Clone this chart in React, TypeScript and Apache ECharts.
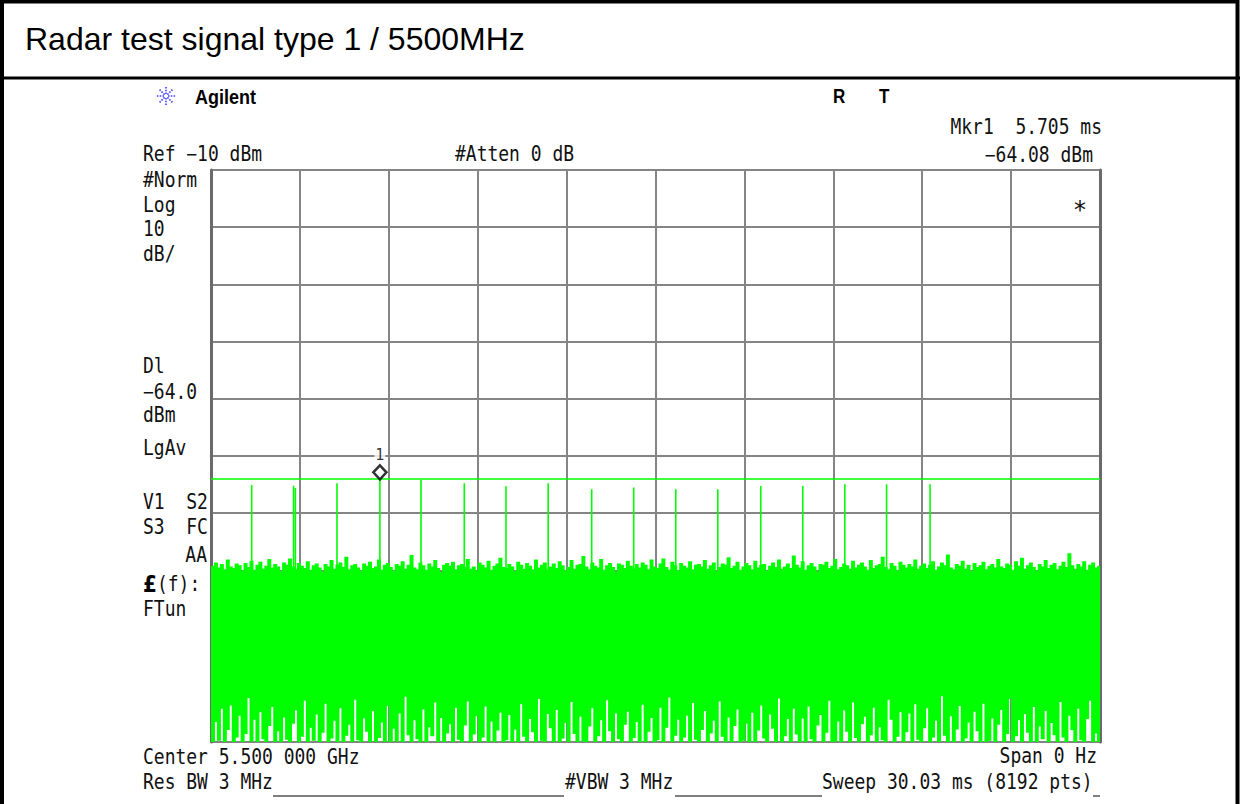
import React, { useEffect, useRef } from "react";
import * as echarts from "echarts";

// ---- Instrument settings ----
const SWEEP_MS = 30.03;
const REF_DBM = -10;
const BOTTOM_DBM = -110;
const DIV_DB = 10;
const DISPLAY_LINE_DBM = -64.0;
const MARKER_T_MS = 5.705;
const MARKER_DBM = -64.08;
const PULSE_BASE_DBM = -80;

// ---- Radar pulses: time (ms) and peak level (dBm) ----
const PULSE_TIMES = [1.375, 2.79, 2.85, 4.256, 5.705, 7.094, 8.556, 9.965, 11.39, 12.86, 14.28, 15.7, 17.12, 18.57, 19.99, 21.41, 22.82, 24.29];
const PULSE_PEAKS = [-65.07, -65.19, -65.6, -64.77, -64.08, -64.2, -64.77, -65.3, -64.77, -65.8, -65.5, -65.8, -65.8, -65.25, -65.25, -64.95, -64.95, -64.95];

// ---- Noise trace envelope: max (top) and min (bottom) per display column group, dBm ----
const NOISE_TOP = [
  -79.2,-78.6,-79.5,-78.9,-79.8,-78.1,-79.3,-79.6,-78.8,-79.1,-80.0,-78.7,-79.4,-78.3,-79.9,-79.0,-78.5,-79.7,-79.2,-78.0,
  -79.5,-78.9,-79.3,-80.1,-78.6,-79.0,-77.9,-79.4,-79.8,-78.7,-79.2,-79.6,-78.4,-79.9,-79.1,-78.8,-79.5,-80.2,-78.9,-79.3,
  -78.2,-79.7,-79.0,-78.6,-79.4,-77.6,-79.8,-79.1,-78.9,-79.5,-80.0,-78.8,-79.2,-78.5,-79.6,-79.3,-78.1,-79.9,-79.0,-78.7,
  -79.4,-80.1,-78.9,-79.2,-78.4,-79.7,-79.0,-77.3,-79.5,-79.8,-78.6,-79.1,-79.9,-78.8,-79.3,-78.2,-79.6,-80.3,-79.0,-78.7,
  -79.2,-78.5,-79.8,-79.1,-78.9,-79.4,-78.0,-79.7,-79.3,-80.0,-78.6,-79.0,-79.5,-78.3,-79.9,-79.2,-78.8,-77.8,-79.4,-79.6,
  -78.9,-79.3,-80.1,-78.5,-79.0,-79.7,-78.7,-79.2,-79.8,-78.1,-79.5,-79.0,-78.6,-79.9,-79.3,-78.8,-79.6,-78.4,-79.1,-80.0,
  -79.4,-78.2,-79.7,-79.0,-78.9,-77.5,-79.3,-79.8,-78.6,-79.2,-79.5,-78.0,-79.9,-79.1,-78.7,-79.4,-80.2,-78.8,-79.0,-79.6,
  -78.3,-79.2,-79.7,-78.9,-79.5,-78.6,-79.0,-79.8,-78.1,-79.3,-79.6,-78.8,-77.9,-79.4,-79.9,-78.5,-79.1,-80.0,-78.7,-79.2,
  -79.5,-78.4,-79.8,-79.0,-78.9,-79.3,-78.2,-79.7,-79.1,-78.6,-80.1,-79.4,-78.8,-79.0,-77.7,-79.6,-79.2,-78.5,-79.9,-79.3,
  -78.7,-79.1,-79.8,-78.3,-79.5,-79.0,-78.9,-80.0,-79.2,-78.6,-79.4,-78.1,-79.7,-79.3,-78.8,-79.6,-77.4,-79.0,-79.5,-78.4,
  -79.9,-79.1,-78.7,-79.3,-80.2,-78.9,-79.0,-78.5,-79.6,-79.2,-78.0,-79.8,-79.4,-78.8,-79.1,-79.7,-78.3,-79.5,-79.0,-78.6,
  -79.3,-79.9,-78.2,-79.6,-79.1,-78.9,-77.6,-79.4,-79.8,-78.7,-79.2,-80.0,-78.5,-79.0,-79.5,-78.9,-79.3,-78.1,-79.7,-79.2,
  -78.8,-79.6,-79.0,-78.4,-79.9,-79.3,-78.6,-79.1,-77.2,-79.5,-79.8,-78.9,-79.2,-78.3,-79.7,-79.0,-80.1,-78.7,-79.4,-79.1,
  -78.5,-79.8,-79.2,-78.9,-79.5,-78.0,-79.3,-79.6,-78.8,-79.0,-79.9,-78.4,-79.2,-77.8,-79.7,-79.1,-78.6,-79.4,-80.0,-78.9,
  -79.3,-78.2,-79.6,-79.0,-78.7,-79.8,-79.2,-78.5,-79.4,-77.0,-79.1,-79.7,-78.9,-79.3,-78.4,-79.9,-79.0,-78.6,-79.5,-79.2,
];
const NOISE_BOTTOM = [
  -110,-106.5,-109.8,-104.2,-110,-107.9,-103.6,-110,-109.2,-105.4,-110,-108.6,-102.3,-109.9,-106.1,-110,-104.8,-109.5,-110,-107.2,
  -103.9,-110,-108.1,-110,-105.7,-109.6,-110,-106.8,-104.5,-110,-109.1,-102.8,-110,-107.5,-109.8,-105.2,-110,-108.4,-103.3,-110,
  -109.4,-106.3,-110,-104.1,-110,-108.9,-107.0,-110,-102.6,-109.7,-110,-105.9,-108.2,-110,-104.6,-110,-109.3,-106.6,-110,-103.7,
  -110,-107.7,-109.9,-105.0,-110,-102.1,-108.8,-110,-106.2,-109.5,-110,-104.3,-110,-107.4,-109.0,-103.1,-110,-105.8,-110,-108.5,
  -106.9,-110,-104.0,-109.6,-110,-107.1,-102.9,-110,-108.7,-105.5,-110,-109.2,-103.8,-110,-106.4,-110,-108.0,-104.9,-110,-109.7,
  -105.3,-110,-107.8,-110,-103.4,-109.1,-110,-106.0,-108.3,-110,-102.5,-109.8,-110,-105.1,-107.6,-110,-104.4,-110,-109.4,-106.7,
  -110,-103.0,-108.6,-110,-105.6,-109.9,-110,-107.3,-104.1,-110,-109.0,-106.2,-110,-102.7,-108.1,-110,-105.0,-109.5,-110,-107.0,
  -104.7,-110,-109.3,-106.5,-110,-103.5,-110,-108.2,-105.8,-110,-109.7,-104.0,-110,-107.5,-102.2,-110,-108.9,-106.1,-110,-109.2,
  -105.4,-110,-103.2,-109.6,-110,-107.9,-104.6,-110,-108.5,-106.3,-110,-102.9,-109.1,-110,-105.7,-110,-107.2,-104.3,-110,-109.8,
  -106.8,-110,-104.9,-110,-108.0,-103.6,-109.4,-110,-105.2,-107.7,-110,-102.4,-110,-109.0,-106.0,-110,-104.2,-108.7,-110,-105.9,
  -110,-103.8,-109.5,-110,-107.1,-105.3,-110,-108.4,-102.8,-110,-109.9,-106.4,-110,-104.5,-108.2,-110,-103.1,-109.3,-110,-106.9,
  -105.6,-110,-108.8,-104.0,-110,-107.4,-109.7,-110,-102.6,-106.1,-110,-109.1,-104.8,-110,-108.3,-105.0,-110,-103.4,-109.6,-110,
  -107.6,-104.1,-110,-109.2,-106.3,-110,-102.0,-108.9,-110,-105.5,-110,-107.8,-103.7,-110,-109.4,-106.6,-110,-104.7,-108.1,-110,
  -103.3,-110,-109.8,-105.9,-110,-107.0,-104.4,-110,-108.6,-102.5,-110,-109.0,-106.2,-110,-105.1,-108.4,-110,-103.9,-110,-107.3,
  -109.5,-104.6,-110,-106.7,-108.8,-110,-103.0,-109.2,-110,-105.4,-107.9,-110,-104.2,-109.7,-110,-106.0,-102.8,-110,-108.5,-110,
];

// ---- Annotation texts ----
const TITLE = "Radar test signal type 1 / 5500MHz";
const LEFT_ANNOTATIONS = ["#Norm", "Log", "10", "dB/", "Dl", "\u221264.0", "dBm", "LgAv", "V1  S2", "S3  FC"];
const TOP_LEFT = "Ref \u221210 dBm";
const TOP_MID = "#Atten 0 dB";
const MARKER_LINE1 = "Mkr1  5.705 ms";
const MARKER_LINE2 = "\u221264.08 dBm";
const BOTTOM_LEFT = "Center 5.500 000 GHz";
const BOTTOM_RIGHT = "Span 0 Hz";
const RBW = "Res BW 3 MHz";
const VBW = "#VBW 3 MHz";
const SWEEP = "Sweep 30.03 ms (8192 pts)";

const MONO = '18px "DejaVu Sans Mono"';

function monoText(text: string, x: number, y: number, align: string = "left") {
  return {
    type: "text",
    x,
    y,
    scaleY: 1.15,
    silent: true,
    style: { text, fill: "#111", font: MONO, align, verticalAlign: "middle" },
  };
}

export default function App() {
  const ref = useRef<HTMLDivElement>(null);

  useEffect(() => {
    if (!ref.current) return;
    const chart = echarts.init(ref.current, undefined, { renderer: "svg" });
    const dt = SWEEP_MS / NOISE_TOP.length;
    const noiseData = NOISE_TOP.map((top, i) => [i * dt, NOISE_BOTTOM[i], top]);
    const pulseData = PULSE_TIMES.map((t, i) => [t, PULSE_PEAKS[i]]);

    const leftYs = [180, 205, 229, 254, 366, 392, 415.5, 448, 502.5, 527.5];
    const graphics: any[] = [
      // outer frame and title separator
      { type: "rect", shape: { x: 2, y: 1.5, width: 1235.5, height: 830 }, style: { fill: "none", stroke: "#000", lineWidth: 4 }, silent: true },
      { type: "line", shape: { x1: 0, y1: 78, x2: 1240, y2: 78 }, style: { stroke: "#000", lineWidth: 3 }, silent: true },
      { type: "text", x: 25, y: 39, silent: true, style: { text: TITLE, fill: "#000", font: '32px "Liberation Sans"', align: "left", verticalAlign: "middle" } },
      // Agilent logo
      {
        type: "group",
        x: 166,
        y: 96,
        silent: true,
        children: [0, 45, 90, 135, 180, 225, 270, 315].map((a) => {
          const r = (a * Math.PI) / 180;
          return {
            type: "line",
            shape: { x1: Math.cos(r) * 2, y1: Math.sin(r) * 2, x2: Math.cos(r) * 10, y2: Math.sin(r) * 10 },
            style: { stroke: "#3b3bff", lineWidth: 1.6, lineDash: [1.5, 1.3] },
          };
        }),
      },
      { type: "text", x: 195, y: 96, scaleY: 1.17, silent: true, style: { text: "Agilent", fill: "#000", font: 'bold 18px "Liberation Sans"', align: "left", verticalAlign: "middle" } },
      { type: "text", x: 833, y: 96, scaleY: 1.17, silent: true, style: { text: "R", fill: "#000", font: 'bold 17px "Liberation Sans"', align: "left", verticalAlign: "middle" } },
      { type: "text", x: 879, y: 96, scaleY: 1.17, silent: true, style: { text: "T", fill: "#000", font: 'bold 17px "Liberation Sans"', align: "left", verticalAlign: "middle" } },
      monoText(TOP_LEFT, 143, 154.5),
      monoText(TOP_MID, 455, 154.5),
      monoText(MARKER_LINE1, 1102, 127, "right"),
      monoText(MARKER_LINE2, 1093, 155, "right"),
      { type: "text", x: 1080, y: 210, silent: true, style: { text: "*", fill: "#111", font: '24px "DejaVu Sans Mono"', align: "center", verticalAlign: "middle" } },
      ...LEFT_ANNOTATIONS.map((t, i) => monoText(t, 143, leftYs[i])),
      monoText("AA", 207, 555, "right"),
      {
        type: "text",
        x: 143,
        y: 584,
        scaleY: 1.15,
        silent: true,
        style: {
          text: "{b|\u00a3}(f):",
          fill: "#111",
          font: MONO,
          align: "left",
          verticalAlign: "middle",
          rich: { b: { font: 'bold 20px "DejaVu Sans"', fill: "#000" } },
        },
      },
      monoText("FTun", 143, 609),
      monoText(BOTTOM_LEFT, 143, 757),
      monoText(BOTTOM_RIGHT, 1097, 756, "right"),
      monoText(RBW, 143, 782),
      monoText(VBW, 565, 782),
      monoText(SWEEP, 822, 782),
      { type: "line", shape: { x1: 273, y1: 796, x2: 564, y2: 796 }, style: { stroke: "#555", lineWidth: 1.5 }, silent: true },
      { type: "line", shape: { x1: 675, y1: 796, x2: 822, y2: 796 }, style: { stroke: "#555", lineWidth: 1.5 }, silent: true },
      { type: "line", shape: { x1: 1093, y1: 796, x2: 1100, y2: 796 }, style: { stroke: "#555", lineWidth: 1.5 }, silent: true },
    ];

    const option: any = {
      animation: false,
      backgroundColor: "#fff",
      grid: { left: 211, right: 142, top: 170, bottom: 62, show: false },
      xAxis: {
        type: "value",
        min: 0,
        max: SWEEP_MS,
        interval: SWEEP_MS / 10,
        axisLine: { show: false },
        axisTick: { show: false },
        axisLabel: { show: false },
        splitLine: { show: true, lineStyle: { color: "#858585", width: 2 } },
      },
      yAxis: [
        {
          type: "value",
          min: BOTTOM_DBM,
          max: REF_DBM,
          interval: DIV_DB,
          axisLine: { show: true, onZero: false, lineStyle: { color: "#6a6a6a", width: 3 } },
          axisTick: { show: false },
          axisLabel: { show: false },
          splitLine: { show: true, lineStyle: { color: "#858585", width: 2 } },
        },
        {
          type: "value",
          position: "right",
          min: BOTTOM_DBM,
          max: REF_DBM,
          interval: DIV_DB,
          axisLine: { show: true, onZero: false, lineStyle: { color: "#6a6a6a", width: 3 } },
          axisTick: { show: false },
          axisLabel: { show: false },
          splitLine: { show: false },
        },
      ],
      graphic: graphics,
      series: [
        {
          type: "custom",
          name: "noise",
          clip: true,
          silent: true,
          data: noiseData,
          encode: { x: 0, y: [1, 2] },
          renderItem: (params: any, api: any) => {
            const t = api.value(0);
            const p0 = api.coord([t, api.value(2)]);
            const p1 = api.coord([t + dt, api.value(1)]);
            return {
              type: "rect",
              shape: { x: p0[0], y: p0[1], width: p1[0] - p0[0] + 1, height: p1[1] - p0[1] },
              style: { fill: "#00ff00" },
            };
          },
          z: 3,
        },
        {
          type: "custom",
          name: "pulses",
          clip: true,
          silent: true,
          data: pulseData,
          encode: { x: 0, y: 1 },
          renderItem: (params: any, api: any) => {
            const t = api.value(0);
            const a = api.coord([t, PULSE_BASE_DBM]);
            const b = api.coord([t, api.value(1)]);
            return {
              type: "line",
              shape: { x1: a[0], y1: a[1], x2: b[0], y2: b[1] },
              style: { stroke: "#00ff00", lineWidth: 1.6 },
            };
          },
          z: 4,
        },
        {
          type: "line",
          name: "display line",
          silent: true,
          symbol: "none",
          data: [[0, DISPLAY_LINE_DBM], [SWEEP_MS, DISPLAY_LINE_DBM]],
          lineStyle: { color: "#00ff00", width: 1.5 },
          z: 4,
        },
        {
          type: "scatter",
          name: "marker",
          silent: true,
          data: [[MARKER_T_MS, MARKER_DBM]],
          symbol: "diamond",
          symbolSize: [13, 14],
          symbolOffset: [0, -7],
          itemStyle: { color: "#fff", borderColor: "#000", borderWidth: 2.6 },
          label: {
            show: true,
            formatter: "1",
            position: "top",
            distance: 1,
            color: "#000",
            fontFamily: "DejaVu Sans Mono",
            fontSize: 15,
            backgroundColor: "#fff",
            padding: [0, 1],
          },
          z: 5,
        },
      ],
    };
    chart.setOption(option);
    return () => chart.dispose();
  }, []);

  return <div ref={ref} style={{ position: "fixed", left: 0, top: 0, width: 1242, height: 804 }} />;
}
